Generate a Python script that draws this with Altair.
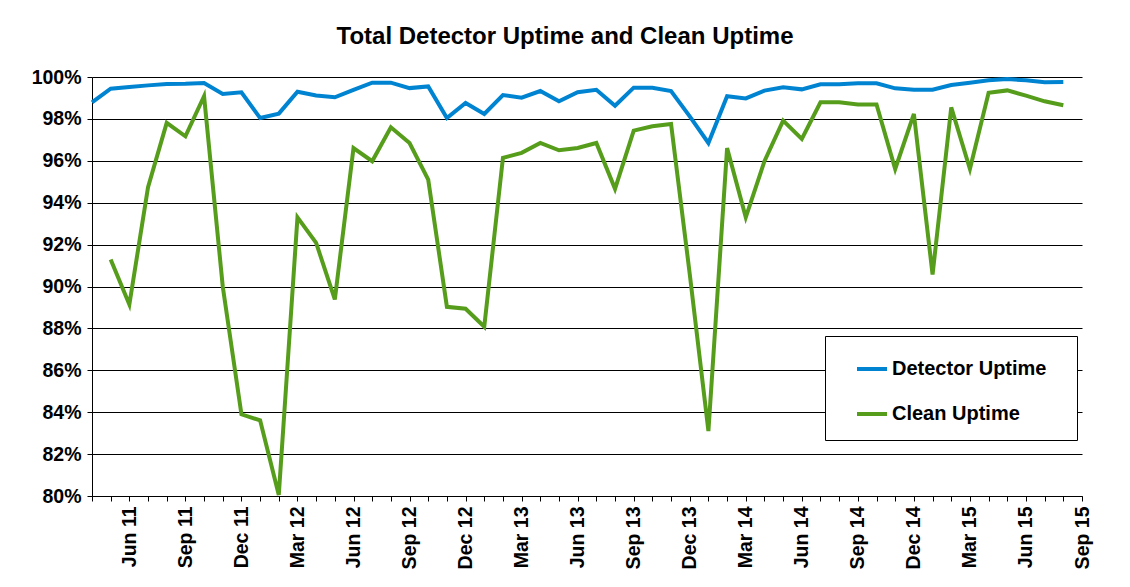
import json
import altair as alt
import pandas as pd

# Month categories (index 0 = Apr 2011 ... 53 = Sep 2015, axis end)
months = [
    "Apr 11", "May 11", "Jun 11", "Jul 11", "Aug 11", "Sep 11", "Oct 11", "Nov 11", "Dec 11",
    "Jan 12", "Feb 12", "Mar 12", "Apr 12", "May 12", "Jun 12", "Jul 12", "Aug 12", "Sep 12",
    "Oct 12", "Nov 12", "Dec 12",
    "Jan 13", "Feb 13", "Mar 13", "Apr 13", "May 13", "Jun 13", "Jul 13", "Aug 13", "Sep 13",
    "Oct 13", "Nov 13", "Dec 13",
    "Jan 14", "Feb 14", "Mar 14", "Apr 14", "May 14", "Jun 14", "Jul 14", "Aug 14", "Sep 14",
    "Oct 14", "Nov 14", "Dec 14",
    "Jan 15", "Feb 15", "Mar 15", "Apr 15", "May 15", "Jun 15", "Jul 15", "Aug 15", "Sep 15",
]

tick_labels = ["Jun 11", "Sep 11", "Dec 11", "Mar 12", "Jun 12", "Sep 12", "Dec 12",
               "Mar 13", "Jun 13", "Sep 13", "Dec 13", "Mar 14", "Jun 14", "Sep 14",
               "Dec 14", "Mar 15", "Jun 15", "Sep 15"]

detector_uptime = [
    98.79, 99.44, 99.52, 99.60, 99.67, 99.68, 99.71, 99.19, 99.27, 98.04,
    98.25, 99.30, 99.12, 99.03, 99.39, 99.73, 99.73, 99.47, 99.55, 98.04,
    98.76, 98.24, 99.14, 99.01, 99.33, 98.84, 99.27, 99.39, 98.63, 99.49,
    99.49, 99.33, 98.12, 96.85, 99.08, 98.98, 99.35, 99.51, 99.41, 99.65,
    99.65, 99.70, 99.70, 99.46, 99.39, 99.39, 99.62, 99.73, 99.84, 99.90,
    99.84, 99.75, 99.76,
]

clean_uptime = [
    None, 91.29, 89.14, 94.74, 97.81, 97.17, 99.08, 90.00, 83.90, 83.61,
    80.05, 93.30, 92.08, 89.38, 96.61, 95.98, 97.60, 96.85, 95.10, 89.03,
    88.94, 88.08, 96.14, 96.38, 96.85, 96.50, 96.61, 96.85, 94.66, 97.44,
    97.65, 97.76, 90.60, 83.10, 96.61, 93.30, 95.98, 97.92, 97.04, 98.79,
    98.79, 98.69, 98.69, 95.61, 98.24, 90.57, 98.55, 95.61, 99.25, 99.36,
    99.11, 98.84, 98.65,
]

series_names = ["Detector Uptime", "Clean Uptime"]
series_colors = ["#0084D1", "#579D1C"]

rows = []
for name, vals in zip(series_names, [detector_uptime, clean_uptime]):
    for i, v in enumerate(vals):
        if v is not None:
            rows.append({"idx": i, "month": months[i], "series": name, "value": v})
df = pd.DataFrame(rows)

label_arr = [m if m in tick_labels else "" for m in months]
label_expr = json.dumps(label_arr) + "[datum.value]"

FONT = "Liberation Sans"
AXIS_FS = 19.5

chart = alt.Chart(df).mark_line(strokeWidth=4, clip=False).encode(
    x=alt.X(
        "idx:Q",
        scale=alt.Scale(domain=[0, len(months) - 1], nice=False, zero=False),
        axis=alt.Axis(
            values=list(range(len(months))),
            labelExpr=label_expr,
            labelAngle=-90,
            labelAlign="right",
            labelBaseline="middle",
            labelPadding=5,
            labelOverlap=False,
            labelFlush=False,
            labelFontSize=AXIS_FS,
            labelFontWeight="bold",
            labelFont=FONT,
            labelColor="black",
            tickSize=5,
            tickColor="black",
            domainColor="black",
            grid=False,
            title=None,
        ),
    ),
    y=alt.Y(
        "value:Q",
        scale=alt.Scale(domain=[80, 100], nice=False, zero=False),
        axis=alt.Axis(
            values=list(range(80, 101, 2)),
            labelExpr="datum.value + '%'",
            labelPadding=6,
            labelFontSize=AXIS_FS,
            labelFontWeight="bold",
            labelFont=FONT,
            labelColor="black",
            tickSize=5,
            tickColor="black",
            domainColor="black",
            grid=True,
            gridColor="black",
            gridOpacity=1,
            gridWidth=1,
            title=None,
        ),
    ),
    color=alt.Color(
        "series:N",
        scale=alt.Scale(domain=series_names, range=series_colors),
        sort=series_names,
        legend=alt.Legend(
            title=".",
            titleOrient="right",
            titleColor="white",
            titleFontSize=8,
            titlePadding=12,
            orient="none",
            legendX=733,
            legendY=259,
            strokeColor="black",
            fillColor="white",
            padding=16,
            symbolType="stroke",
            symbolSize=900,
            symbolStrokeWidth=4,
            symbolOffset=14,
            labelFontSize=20,
            labelFontWeight="bold",
            labelFont=FONT,
            labelColor="black",
            labelOffset=3,
            rowPadding=18,
        ),
    ),
).properties(
    width=990,
    height=419,
    autosize=alt.AutoSizeParams(type="none"),
    padding={"left": 84, "top": 69, "right": 40, "bottom": 80},
    title=alt.TitleParams(
        "Total Detector Uptime and Clean Uptime",
        fontSize=24,
        fontWeight="bold",
        font=FONT,
        color="black",
        anchor="middle",
        dx=-22,
        offset=18,
    ),
).configure_view(strokeWidth=0).configure_legend(strokeWidth=1, cornerRadius=0)

chart.save("out.html", embed_options={"renderer": "svg", "actions": False})
